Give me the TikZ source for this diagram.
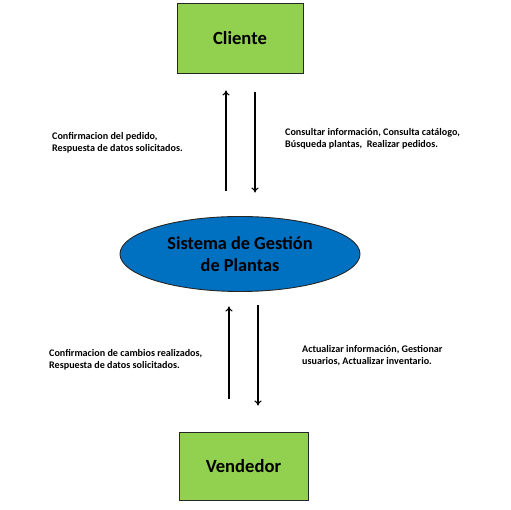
\documentclass[tikz,border=0pt]{standalone}
\usepackage{fontspec}
\setmainfont{Carlito}
\usetikzlibrary{shapes.geometric,arrows.meta}
\tikzset{
  actor/.style={draw=black!85, line width=0.9pt, fill=actorgreen, minimum width=126pt, minimum height=70pt, font=\fontsize{18.6}{22}\selectfont\bfseries},
  core/.style={ellipse, draw=black!85, line width=0.9pt, fill=coreblue, minimum width=240pt, minimum height=75pt, align=center, inner sep=0pt, font=\fontsize{18.3}{22}\selectfont\bfseries},
  flow/.style={-{To[length=5pt,width=7pt]}, line width=1.1pt},
  note/.style={anchor=west, align=left, inner sep=0pt, font=\fontsize{10.1}{12.5}\selectfont\bfseries}
}
\definecolor{actorgreen}{HTML}{92D050}
\definecolor{coreblue}{HTML}{0070C0}
\begin{document}
\begin{tikzpicture}[x=1pt,y=1pt]
			%%%%% START %%%%%
			\useasboundingbox (0, 0) rectangle (511, 510);
			
			\node[actor] (cliente) at (240, 472) {Cliente};
			\node[core] (sistema) at (240, 256) {Sistema de Gestión\\de Plantas};
			\node[actor, minimum width=129pt, minimum height=68pt] (vendedor) at (243.5, 44) {Vendedor};
			
			% cliente <-> sistema
			\draw[flow] ([xshift=-14pt, yshift=25.5pt]sistema.north) -- ([xshift=-14pt, yshift=-17pt]cliente.south);
			\draw[flow] ([xshift=15pt, yshift=-19pt]cliente.south) -- ([xshift=15pt, yshift=23.5pt]sistema.north);
			\node[note] (respcli) at (52, 367) {Confirmacion del pedido,\\Respuesta de datos solicitados.};
			\node[note] (pidecli) at (285, 371) {Consultar información, Consulta catálogo,\\Búsqueda plantas,\ \ Realizar pedidos.};
			
			% vendedor <-> sistema
			\draw[flow] ([xshift=-14.5pt, yshift=33pt]vendedor.north) -- ([xshift=-11pt, yshift=-14.5pt]sistema.south);
			\draw[flow] ([xshift=18pt, yshift=-13.5pt]sistema.south) -- ([xshift=14.5pt, yshift=26pt]vendedor.north);
			\node[note] (respven) at (49, 150.5) {Confirmacion de cambios realizados,\\Respuesta de datos solicitados.};
			\node[note] (pideven) at (302, 154.5) {Actualizar información, Gestionar\\usuarios, Actualizar inventario.};
			
			%%%%% END %%%%%
\end{tikzpicture}
\end{document}
